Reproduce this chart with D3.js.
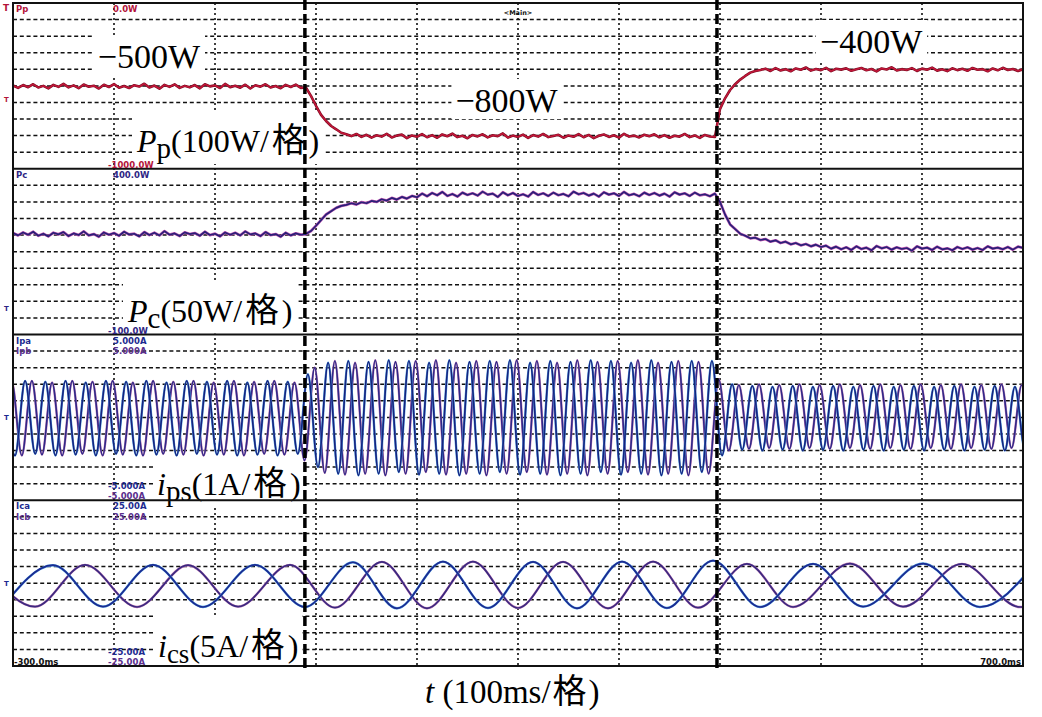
<!DOCTYPE html>
<html><head><meta charset="utf-8">
<script src="https://cdn.jsdelivr.net/npm/d3@7"></script>
<style>html,body{margin:0;padding:0;background:#fff}svg{display:block}</style>
</head><body>
<svg id="c" width="1042" height="717"></svg>
<script>
// ---------------- DATA ----------------
const timeDomain = [-300, 700];           // ms
const timeTicks = [-300,-200,-100,0,100,200,300,400,500,600,700];
const stepTimes = [-11, 397];             // load change instants (ms)

// Power traces, oscilloscope samples every 5 ms from -300 ms
const powerSampleStep = 5;
const ppValues = [
 -498,-512,-495,-508,-490,-510,-500,-515,-494,-506,-488,-509,-497,-514,-492,-505,-499,-516,-493,-507,
 -489,-511,-501,-513,-496,-504,-487,-510,-498,-517,-494,-506,-491,-512,-500,-509,-495,-515,-490,-503,
 -497,-513,-488,-508,-499,-511,-493,-516,-496,-505,-490,-510,-501,-514,-494,-507,-492,-512,
 -510,-560,-620,-675,-712,-742,-762,-783,-792,
 -803,-790,-808,-795,-812,-798,-806,-789,-811,-800,-794,-815,-799,-807,-791,-810,-797,-813,-793,-804,
 -788,-809,-801,-816,-796,-805,-792,-811,-798,-803,-787,-812,-800,-808,-794,-814,-797,-806,-790,-809,
 -802,-795,-813,-799,-807,-791,-810,-796,-815,-801,-793,-808,-798,-812,-789,-806,-800,-811,-795,-804,
 -792,-810,-797,-813,-801,-806,-790,-809,-799,-814,-796,-805,-808,
 -640,-575,-525,-490,-462,-440,-420,-410,
 -404,-396,-410,-393,-407,-399,-412,-395,-403,-389,-408,-398,-405,-391,-411,-397,-402,-394,-409,-400,
 -392,-406,-398,-413,-395,-401,-388,-407,-399,-404,-393,-410,-396,-403,-390,-408,-400,-411,-394,-405,
 -397,-409,-392,-403,-399,-412,-395,-406,-391,-404,-398,-410,-400
];
const pcValues = [
 206,199,208,201,210,198,204,196,207,202,209,197,205,200,211,199,203,195,208,201,
 206,198,210,202,204,196,209,200,207,199,212,201,205,197,208,203,206,198,210,200,
 204,196,208,201,207,199,211,202,205,197,209,200,203,195,207,199,205,201,
 203,212,228,245,262,272,282,288,291,296,292,299,296,303,300,308,304,312,307,315,310,318,314,
 325,317,327,320,330,318,324,316,328,321,326,319,331,322,325,315,329,320,327,318,
 323,316,330,321,326,318,328,320,324,317,331,323,327,319,325,316,329,322,326,318,
 330,320,324,317,328,321,327,319,325,316,329,322,326,318,328,320,323,317,325,
 300,262,232,218,204,198,190,192,185,188,180,184,176,180,172,176,169,173,166,171,164,
 168,159,165,157,163,155,166,158,162,154,167,160,164,156,163,158,161,153,166,159,
 162,155,165,157,160,154,164,158,163,156,161,155,166,159,162,157,164,156,165,161
];

// Primary-side currents: successive peaks/troughs, one every half period (10 ms)
const ipsHalfPeriod = 10;
const ipaStart = -308;
const ipbStart = -311.3;
const ipaValues = [
 2.1,-2.3,2.2,-2.2,2.15,-2.3,2.2,-2.25,2.1,-2.3, 2.2,-2.2,2.15,-2.3,2.2,-2.25,2.1,-2.3,2.2,-2.2,
 2.15,-2.25,2.2,-2.3,2.1,-2.25,2.2,-2.3,2.15,-2.2,
 2.6,-3.0,
 3.3,-3.4,3.4,-3.5,3.35,-3.4,3.45,-3.3,3.4,-3.45, 3.3,-3.4,3.45,-3.5,3.35,-3.4,3.4,-3.3,3.45,-3.45,
 3.3,-3.4,3.4,-3.5,3.35,-3.4,3.45,-3.3,3.4,-3.45, 3.3,-3.4,3.45,-3.5,3.35,-3.4,3.4,-3.3,3.4,
 -2.3,2.0,-1.95,1.9,-2.0,1.85,-1.95,1.9,-2.0,1.85, -1.95,1.9,-2.0,1.85,-1.95,1.9,-2.0,1.85,-1.95,1.9,
 -2.0,1.85,-1.95,1.9,-2.0,1.85,-1.95,1.9,-2.0,1.85, -1.95,1.9
];
const ipbValues = [
 -2.2,2.15,-2.3,2.2,-2.25,2.1,-2.3,2.2,-2.2,2.15, -2.3,2.2,-2.25,2.1,-2.3,2.2,-2.2,2.15,-2.25,2.2,
 -2.3,2.1,-2.25,2.2,-2.3,2.15,-2.2,2.2,-2.25,2.1,
 -2.6,3.0,
 -3.35,3.4,-3.45,3.3,-3.4,3.45,-3.5,3.35,-3.4,3.4, -3.3,3.45,-3.45,3.3,-3.4,3.4,-3.5,3.35,-3.4,3.45,
 -3.3,3.4,-3.45,3.3,-3.4,3.45,-3.5,3.35,-3.4,3.4, -3.3,3.45,-3.45,3.3,-3.4,3.4,-3.5,3.35,-3.4,
 2.3,-2.0,1.95,-1.9,2.0,-1.85,1.95,-1.9,2.0,-1.85, 1.95,-1.9,2.0,-1.85,1.95,-1.9,2.0,-1.85,1.95,-1.9,
 2.0,-1.85,1.95,-1.9,2.0,-1.85,1.95,-1.9,2.0,-1.85, 1.95,-1.9
];

// Converter-side currents: peak/trough instants (ms) and values (A)
const icaTimes = [-310,-260.4,-210.9,-161.4,-111.9,-60.4,-10.9,36.6,80.2,125.7,170.3,214.9,258.4,303.0,347.5,393.1,439.6,492.1,541.6,601.0,657.4,711.9];
const icaValues = [-7.0,5.4,-7.1,5.5,-7.2,5.5,-7.2,6.3,-7.6,6.5,-7.5,6.4,-7.6,6.5,-7.5,6.8,-7.2,5.8,-7.1,5.9,-7.2,5.8];
const icbTimes = [-327.7,-278.2,-228.7,-177.2,-126.7,-77.2,-25.7,18.8,65.3,109.9,155.4,200,244.6,289.1,333.7,378.2,426.7,472.3,528.7,581.2,639.6,697,751.5];
const icbValues = [5.4,-7.1,5.5,-7.2,5.4,-7.1,5.5,-7.4,6.4,-7.6,6.5,-7.5,6.4,-7.6,6.5,-7.4,5.8,-7.2,5.9,-7.1,5.8,-7.2,5.8];

// Panel ranges (scope channel settings)
const panelNames = ["Pp","Pc","ips","ics"];
const panelDomains = [[-1000,0],[-100,400],[-5,5],[-25,25]];
const scopeTopLabels = [["0.0W"],["400.0W"],["5.000A","5.000A"],["25.00A","25.00A"]];
const scopeBottomLabels = [["-1000.0W"],["-100.0W"],["-5.000A","-5.000A"],["-25.00A","-25.00A"]];
const scopeChannelNames = [["Pp"],["Pc"],["Ipa","Ipb"],["Ica","Icb"]];
const valueLabels = ["−500W","−800W","−400W"];
const valueLabelTimes = [-216, 138, 499];
const timeLabels = ["-300.0ms","700.0ms"];

// ---------------- LAYOUT ----------------
const svg = d3.select("#c");
const L = 13, R = 1023, T = 3, B = 666;
const pH = (B - T) / 4;
const x = d3.scaleLinear().domain(timeDomain).range([L, R]);
const ys = panelDomains.map((d, i) => d3.scaleLinear().domain(d).range([T + (i + 1) * pH, T + i * pH]));

const serif = "'Liberation Serif','Times New Roman',serif";
const cjk = "'Noto Sans CJK SC','Noto Sans CJK JP',sans-serif";
const mono = "'DejaVu Sans',sans-serif";

svg.append("rect").attr("width", 1042).attr("height", 717).attr("fill", "#fff");

const defs = svg.append("defs");
ys.forEach((y, i) => {
  defs.append("clipPath").attr("id", "clip" + i).append("rect")
    .attr("x", L).attr("y", y.range()[1]).attr("width", R - L).attr("height", pH);
});

// ---------------- GRID ----------------
const grid = svg.append("g");
ys.forEach((y, i) => {
  const ticks = y.ticks(10).filter(v => v > y.domain()[0] && v < y.domain()[1]);
  grid.selectAll(null).data(ticks).enter().append("line")
    .attr("x1", L).attr("x2", R).attr("y1", d => y(d)).attr("y2", d => y(d))
    .attr("stroke", "#111").attr("stroke-width", 1.5).attr("stroke-dasharray", "4,2.8");
});
grid.selectAll(null).data(timeTicks.slice(1, -1)).enter().append("line")
  .attr("x1", d => x(d)).attr("x2", d => x(d)).attr("y1", T).attr("y2", B)
  .attr("stroke", "#111").attr("stroke-width", 1.6).attr("stroke-dasharray", "2,3");

// ---------------- BIG LABELS ----------------
function bigLabel(xp, yp, size, parts, maxBottom) {
  const g = svg.append("g");
  const rect = g.append("rect").attr("fill", "#fff");
  const txt = g.append("text").attr("x", xp).attr("y", yp)
    .attr("font-family", serif).attr("font-size", size).attr("fill", "#000");
  let shifted = 0;
  parts.forEach(p => {
    const ts = txt.append("tspan").text(p.t);
    let dy = 0;
    if (p.sub) { dy = 6 - shifted; shifted = 6; ts.attr("font-size", p.subSize || 29); }
    else if (shifted) { dy = -shifted; shifted = 0; }
    if (dy) ts.attr("dy", dy);
    if (p.i) ts.attr("font-style", "italic");
    if (p.cjk) ts.attr("font-family", cjk).attr("font-size", size * 1.05).attr("dx", 3);
    if (p.after) ts.attr("dx", 3);
  });
  const bb = txt.node().getBBox();
  let y0 = bb.y - 3, y1 = bb.y + bb.height;
  if (maxBottom !== undefined) y1 = Math.min(y1, maxBottom);
  rect.attr("x", bb.x - 4).attr("y", y0).attr("width", bb.width + 8).attr("height", y1 - y0);
  return g;
}
bigLabel(x(valueLabelTimes[0]), 68, 34, [{t: valueLabels[0]}]);
bigLabel(x(valueLabelTimes[1]), 112, 34, [{t: valueLabels[1]}]);
bigLabel(x(valueLabelTimes[2]), 53, 34, [{t: valueLabels[2]}]);
bigLabel(137, 152, 32, [{t:"P",i:1},{t:"p",sub:1},{t:"(100W/"},{t:"格",cjk:1},{t:")",after:1}], ys[0].range()[0] - 1);
bigLabel(128, 322, 32, [{t:"P",i:1},{t:"c",sub:1},{t:"(50W/"},{t:"格",cjk:1},{t:")",after:1}], ys[1].range()[0] - 1);
bigLabel(157, 495, 32, [{t:"i",i:1},{t:"ps",sub:1,subSize:29},{t:"(1A/"},{t:"格",cjk:1},{t:")",after:1}]);
bigLabel(158, 657, 32, [{t:"i",i:1},{t:"cs",sub:1,subSize:27},{t:"(5A/"},{t:"格",cjk:1},{t:")",after:1}]);

// bottom axis label
const tl = svg.append("text").attr("x", 425).attr("y", 703)
  .attr("font-family", serif).attr("font-size", 33).attr("fill", "#000");
tl.append("tspan").attr("font-style", "italic").text("t");
tl.append("tspan").text(" (100ms/");
tl.append("tspan").attr("font-family", cjk).attr("font-size", 34).attr("dx", 2).text("格");
tl.append("tspan").attr("dx", 2).text(")");

// ---------------- TRACES ----------------
const traces = svg.append("g");
function drawPath(i, d, stroke, width) {
  traces.append("path").attr("clip-path", "url(#clip" + i + ")")
    .attr("d", d).attr("fill", "none").attr("stroke", stroke)
    .attr("stroke-width", width).attr("stroke-linejoin", "round");
}
const tPow = i => timeDomain[0] + i * powerSampleStep;
const linePp = d3.line().x((d, i) => x(tPow(i))).y(d => ys[0](d)).curve(d3.curveLinear);
const linePc = d3.line().x((d, i) => x(tPow(i))).y(d => ys[1](d)).curve(d3.curveLinear);
drawPath(0, linePp(ppValues), "#7e0c22", 2.6);
drawPath(0, linePp(ppValues), "#c4173a", 1.4);
drawPath(1, linePc(pcValues), "#c65ab4", 2.8);
drawPath(1, linePc(pcValues), "#2a2078", 1.7);

const lineIpa = d3.line().x((d, i) => x(ipaStart + i * ipsHalfPeriod)).y(d => ys[2](d)).curve(d3.curveMonotoneX);
const lineIpb = d3.line().x((d, i) => x(ipbStart + i * ipsHalfPeriod)).y(d => ys[2](d)).curve(d3.curveMonotoneX);
drawPath(2, lineIpb(ipbValues), "#c47ab6", 2.4);
drawPath(2, lineIpb(ipbValues), "#2e2a88", 1.6);
drawPath(2, lineIpa(ipaValues), "#4e9ee0", 2.4);
drawPath(2, lineIpa(ipaValues), "#18237e", 1.6);

const lineIc = (ts) => d3.line().x((d, i) => x(ts[i])).y(d => ys[3](d)).curve(d3.curveMonotoneX);
drawPath(3, lineIc(icbTimes)(icbValues), "#c47ab6", 2.4);
drawPath(3, lineIc(icbTimes)(icbValues), "#3a2a80", 1.7);
drawPath(3, lineIc(icaTimes)(icaValues), "#4e9ee0", 2.4);
drawPath(3, lineIc(icaTimes)(icaValues), "#1c2a90", 1.7);

// ---------------- FRAME ----------------
const frame = svg.append("g");
frame.append("rect").attr("x", L).attr("y", T).attr("width", R - L).attr("height", B - T)
  .attr("fill", "none").attr("stroke", "#111").attr("stroke-width", 2);
frame.selectAll(null).data(ys.slice(1)).enter().append("line")
  .attr("x1", L).attr("x2", R).attr("y1", y => y.range()[1]).attr("y2", y => y.range()[1])
  .attr("stroke", "#111").attr("stroke-width", 2);

// ---------------- SCOPE ANNOTATIONS ----------------
const chColors = [["#b3133a"],["#2e2584"],["#1c2a90","#5a2f8e"],["#1c2a90","#5a2f8e"]];
const small = svg.append("g").attr("font-family", mono).attr("font-weight", "bold").attr("font-size", 8.5);
ys.forEach((y, i) => {
  const top = y.range()[1], bot = y.range()[0];
  scopeChannelNames[i].forEach((n, k) => {
    small.append("text").attr("x", 16).attr("y", top + 9 + k * 10.5).attr("fill", chColors[i][k]).text(n);
  });
  scopeTopLabels[i].forEach((n, k) => {
    small.append("text").attr("x", 113).attr("y", top + 9 + k * 10.5).attr("fill", chColors[i][k]).text(n);
  });
  const nb = scopeBottomLabels[i].length;
  scopeBottomLabels[i].forEach((n, k) => {
    small.append("text").attr("x", 108).attr("y", bot - 1 - (nb - 1 - k) * 10.5).attr("fill", chColors[i][k]).text(n);
  });
});
small.append("text").attr("x", 14).attr("y", B - 1).attr("fill", "#111").text(timeLabels[0]);
small.append("text").attr("x", R - 2).attr("y", B - 1).attr("text-anchor", "end").attr("fill", "#111").text(timeLabels[1]);
small.append("text").attr("x", x(200)).attr("y", 15).attr("text-anchor", "middle").attr("font-size", 6.5).attr("fill", "#111").text("<Main>");
// channel markers at left edge
const markerY = [[ys[0](-580)],[ys[1](-20)],[ys[2](0)],[ys[3](0)]];
const tiny = svg.append("g").attr("font-family", mono).attr("font-weight", "bold").attr("font-size", 7);
markerY.forEach((m, i) => {
  tiny.append("text").attr("x", 4).attr("y", m[0] + 3).attr("fill", chColors[i][0]).text("T");
});
tiny.append("text").attr("x", 3).attr("y", 11).attr("fill", "#b3133a").attr("font-size", 9).text("T");

// ---------------- STEP MARKERS ----------------
svg.append("g").selectAll(null).data(stepTimes).enter().append("line")
  .attr("x1", d => x(d)).attr("x2", d => x(d)).attr("y1", 0).attr("y2", 671)
  .attr("stroke", "#000").attr("stroke-width", 3.5).attr("stroke-dasharray", "10,4");
</script>
</body></html>
